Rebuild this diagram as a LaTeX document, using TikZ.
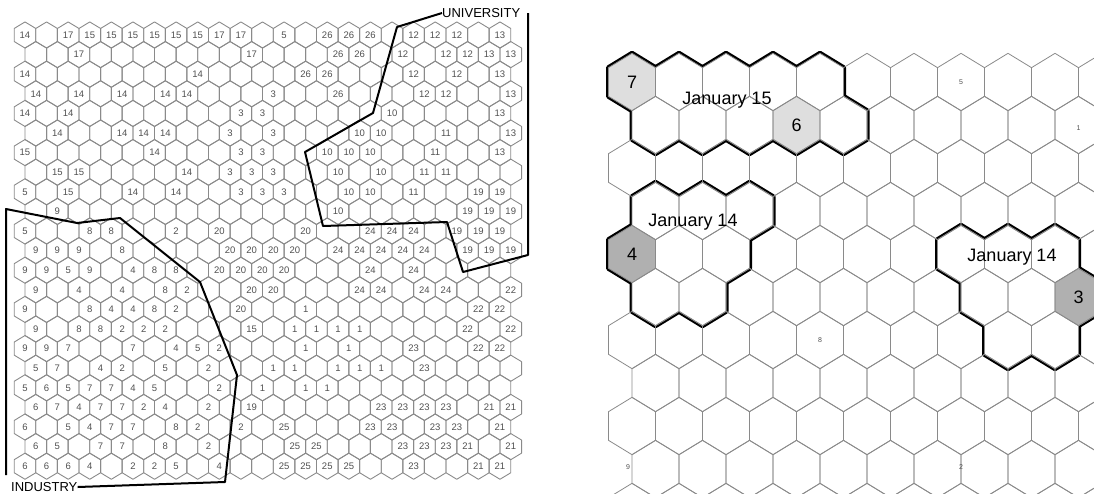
\documentclass[tikz,border=0pt]{standalone}
\usepackage{fontspec}
\setmainfont{Liberation Sans}
\definecolor{hexgray}{HTML}{8A8A8A}
\definecolor{numgray}{HTML}{505050}
\definecolor{lightcell}{HTML}{DEDEDE}
\definecolor{darkcell}{HTML}{B0B0B0}
\tikzset{
  hexL/.style={draw=hexgray, line width=0.9pt, line join=round},
  hexR/.style={draw=hexgray, line width=0.8pt, line join=round},
  numL/.style={font=\fontsize{9.5}{10}\selectfont, text=numgray, inner sep=0pt},
  numR/.style={font=\fontsize{7}{8}\selectfont, text=numgray, inner sep=0pt},
  bigR/.style={font=\fontsize{18}{20}\selectfont, text=black, inner sep=0pt},
  bound/.style={draw=black, line width=2pt, line join=round},
  tag/.style={font=\fontsize{13}{14}\selectfont, inner sep=0pt},
}
\newcommand\hexpath[4]{(#1,#2-#4) -- (#1+#3,#2-#4/2) -- (#1+#3,#2+#4/2) -- (#1,#2+#4) -- (#1-#3,#2+#4/2) -- (#1-#3,#2-#4/2) -- cycle}
\begin{document}
\begin{tikzpicture}[x=1pt,y=-1pt]
\useasboundingbox (0,0) rectangle (1094,493);
% ---------------- left panel grid
\foreach \r in {0,...,22}{
  \foreach \k in {0,...,22}{
    \pgfmathsetmacro\cx{25+21.59*\k+10.795*mod(\r,2)}
    \pgfmathsetmacro\cy{35+19.6*\r}
    \draw[hexL] \hexpath{\cx}{\cy}{10.795}{13.07};
  }
}
\foreach \r/\lst in {
 0/{0/14,2/17,3/15,4/15,5/15,6/15,7/15,8/15,9/17,10/17,12/5,14/26,15/26,16/26,18/12,19/12,20/12,22/13},
 1/{2/17,10/17,14/26,15/26,17/12,19/12,20/12,21/13,22/13},
 2/{0/14,8/14,13/26,14/26,18/12,20/12,22/13},
 3/{0/14,2/14,4/14,6/14,7/14,11/3,14/26,18/12,19/12,22/13},
 4/{0/14,2/14,10/3,11/3,17/10,22/13},
 5/{1/14,4/14,5/14,6/14,9/3,11/3,15/10,16/10,19/11,22/13},
 6/{0/15,6/14,10/3,11/3,14/10,15/10,16/10,19/11,22/13},
 7/{1/15,2/15,7/14,9/3,10/3,11/3,14/10,16/10,18/11,19/11},
 8/{0/5,2/15,5/14,7/14,10/3,11/3,12/3,15/10,16/10,18/11,21/19,22/19},
 9/{1/9,14/10,20/19,21/19,22/19},
 10/{0/5,3/8,4/8,7/2,9/20,13/20,16/24,17/24,18/24,20/19,21/19,22/19},
 11/{0/9,1/9,2/9,4/8,9/20,10/20,11/20,12/20,14/24,15/24,16/24,17/24,18/24,20/19,21/19,22/19},
 12/{0/9,1/9,2/5,3/9,5/4,6/8,7/8,9/20,10/20,11/20,12/20,16/24,18/24},
 13/{0/9,2/4,4/4,6/8,7/2,10/20,11/20,15/24,16/24,18/24,19/24,22/22},
 14/{0/9,3/8,4/4,5/4,6/8,7/2,10/20,13/1,21/22,22/22},
 15/{0/9,2/8,3/8,4/2,5/2,6/2,10/15,12/1,13/1,14/1,15/1,20/22,22/22},
 16/{0/9,1/9,2/7,5/7,7/4,8/5,9/2,13/1,15/1,18/23,21/22,22/22},
 17/{0/5,1/7,3/4,4/2,6/5,8/2,11/1,12/1,14/1,15/1,16/1,18/23},
 18/{0/5,1/6,2/5,3/7,4/7,5/4,6/5,9/2,11/1,13/1,14/1},
 19/{0/6,1/7,2/4,3/7,4/7,5/2,6/4,8/2,10/19,16/23,17/23,18/23,19/23,21/21,22/21},
 20/{0/6,2/5,3/4,4/7,5/7,7/8,8/2,10/2,12/25,16/23,17/23,19/23,20/23,22/21},
 21/{0/6,1/5,3/7,4/7,6/8,8/2,12/25,13/25,17/23,18/23,19/23,20/21,22/21},
 22/{0/6,1/6,2/6,3/4,5/2,6/2,7/5,9/4,12/25,13/25,14/25,15/25,18/23,21/21,22/21}}{
  \foreach \k/\t in \lst {
    \pgfmathsetmacro\cx{25+21.59*\k+10.795*mod(\r,2)}
    \pgfmathsetmacro\cy{35+19.6*\r}
    \node[numL] (L\r-\k) at (\cx,\cy) {\t};
  }
}
% boundaries
\node[tag, anchor=west] (univ) at (442,13) {UNIVERSITY};
\draw[bound] (univ.west) -- (397,27) -- (373,113) -- (305,152) -- (323,226) -- (447,222) -- (463,272) -- (528,255) -- (528,13);
\node[tag, anchor=west] (ind) at (11,487) {INDUSTRY};
\draw[bound] (6,475) -- (6,209) -- (77,223) -- (120,218) -- (200,282) -- (237,375) -- (225,482) -- (ind.east);
% ---------------- right panel
\begin{scope}
\clip (606,35) rectangle (1094,493);
\foreach \r/\k/\c in {0/0/lightcell,0/1/white,0/2/white,0/3/white,0/4/white,
   1/0/white,1/1/white,1/2/white,1/3/lightcell,1/4/white,
   3/0/white,3/1/white,3/2/white,4/0/darkcell,4/1/white,4/2/white,5/0/white,5/1/white,
   4/7/white,4/8/white,4/9/white,5/7/white,5/8/white,5/9/darkcell,6/8/white,6/9/white}{
  \pgfmathsetmacro\cx{632+47*\k+23.5*mod(\r,2)}
  \pgfmathsetmacro\cy{82+43*\r}
  \draw[line width=5pt, line join=round] \hexpath{\cx}{\cy}{23.5}{28.67};
}
\foreach \r/\k/\c in {0/0/lightcell,0/1/white,0/2/white,0/3/white,0/4/white,
   1/0/white,1/1/white,1/2/white,1/3/lightcell,1/4/white,
   3/0/white,3/1/white,3/2/white,4/0/darkcell,4/1/white,4/2/white,5/0/white,5/1/white,
   4/7/white,4/8/white,4/9/white,5/7/white,5/8/white,5/9/darkcell,6/8/white,6/9/white}{
  \pgfmathsetmacro\cx{632+47*\k+23.5*mod(\r,2)}
  \pgfmathsetmacro\cy{82+43*\r}
  \fill[\c] \hexpath{\cx}{\cy}{23.5}{28.67};
}
\foreach \r in {0,...,10}{
  \foreach \k in {0,...,10}{
    \pgfmathsetmacro\cx{632+47*\k+23.5*mod(\r,2)}
    \pgfmathsetmacro\cy{82+43*\r}
    \draw[hexR] \hexpath{\cx}{\cy}{23.5}{28.67};
  }
}
\end{scope}
\node[bigR] (c7) at (632,82) {7};
\node[bigR] (c6) at (796.5,125) {6};
\node[bigR] (c4) at (632,254) {4};
\node[bigR] (c3) at (1078.5,297) {3};
\node[bigR] (j15) at (727,100) {January 15};
\node[bigR] (j14a) at (693,222) {January 14};
\node[bigR] (j14b) at (1012,257) {January 14};
\node[numR] (n5) at (961,82) {5};
\node[numR] (n1) at (1078.5,128) {1};
\node[numR] (n8) at (820,340) {8};
\node[numR] (n9) at (628,467) {9};
\node[numR] (n2) at (961,467) {2};
\end{tikzpicture}
\end{document}
